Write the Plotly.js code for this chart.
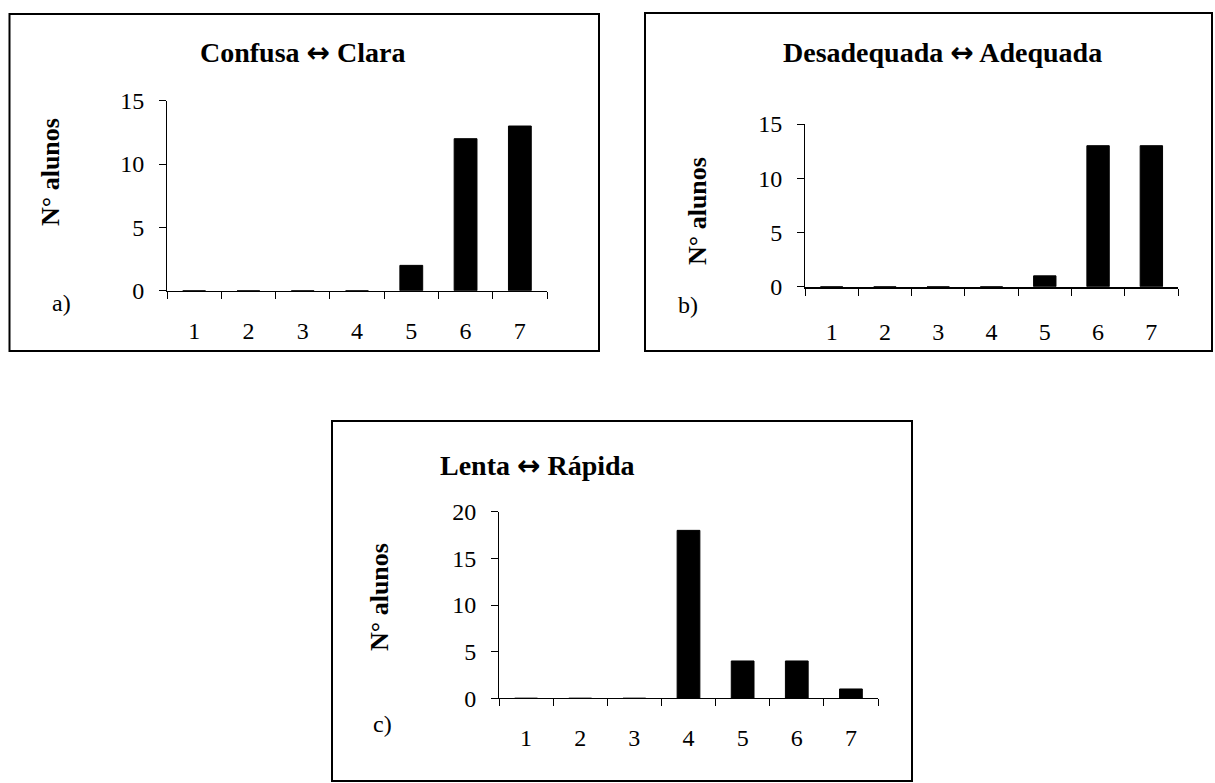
<!DOCTYPE html>
<html>
<head>
<meta charset="utf-8">
<script src="https://cdn.plot.ly/plotly-3.0.1.min.js"></script>
<style>html,body{margin:0;padding:0;background:#fff;}#chart{width:1215px;height:783px;}</style>
</head>
<body>
<div id="chart"></div>
<script>
// ---- data ----
const categories = ['1', '2', '3', '4', '5', '6', '7'];
const valuesA = [0, 0, 0, 0, 2, 12, 13];
const valuesB = [0, 0, 0, 0, 1, 13, 13];
const valuesC = [0, 0, 0, 18, 4, 4, 1];
const titleLeft = ['Confusa', 'Desadequada', 'Lenta'];
const titleRight = ['Clara', 'Adequada', 'R\u00e1pida'];
const panelLetters = ['a)', 'b)', 'c)'];
const yTitle = 'N\u00b0 alunos';
const yMax = [15, 15, 20];

// ---- layout helpers ----
const W = 1215, H = 783;
const px = x => x / W;
const py = y => 1 - y / H;
const FONT = 'Liberation Serif, Times New Roman, serif';

const panels = [
  {vals: valuesA, x0: 167, x1: 547, yTop: 100.7, yBot: 290.7, lw: 1, stand: 18,
   box: [9.5, 14, 599, 351], title: [303, 53], ytitle: [50, 172], letter: [61, 303]},
  {vals: valuesB, x0: 805, x1: 1178, yTop: 124, yBot: 286.7, lw: 2, stand: 22,
   box: [645, 13, 1212, 351], title: [942, 53], ytitle: [698, 211], letter: [688, 305]},
  {vals: valuesC, x0: 499, x1: 878, yTop: 511.7, yBot: 698.3, lw: 1, stand: 18,
   box: [332, 421, 912, 781], title: [537, 466], ytitle: [379, 597], letter: [382, 724]}
];

const traces = [];
const layout = {
  width: W, height: H,
  margin: {l: 0, r: 0, t: 0, b: 0},
  paper_bgcolor: '#fff', plot_bgcolor: 'rgba(0,0,0,0)',
  showlegend: false,
  font: {family: FONT, color: '#000'},
  shapes: [], annotations: []
};

panels.forEach((p, i) => {
  const sfx = i === 0 ? '' : String(i + 1);
  traces.push({
    type: 'bar', x: categories, y: p.vals,
    xaxis: 'x' + sfx, yaxis: 'y' + sfx,
    width: 0.42,
    marker: {color: '#000', line: {color: '#000', width: 1}},
    hoverinfo: 'x+y'
  });
  layout['xaxis' + sfx] = {
    domain: [px(p.x0), px(p.x1)],
    anchor: 'y' + sfx,
    type: 'category',
    range: [-0.5, 6.5],
    tickson: 'boundaries',
    ticks: 'outside', ticklen: 7, tickwidth: 1, tickcolor: '#000',
    showline: true, linecolor: '#000', linewidth: p.lw,
    showgrid: false, zeroline: false,
    ticklabelstandoff: p.stand,
    tickfont: {family: FONT, size: 24, color: '#000'}
  };
  layout['yaxis' + sfx] = {
    domain: [py(p.yBot), py(p.yTop)],
    anchor: 'x' + sfx,
    range: [0, yMax[i]],
    dtick: 5, tick0: 0,
    ticks: 'outside', ticklen: 7, tickwidth: 1, tickcolor: '#000',
    showline: true, linecolor: '#000', linewidth: 1,
    showgrid: false, zeroline: false,
    ticklabelstandoff: 10,
    tickfont: {family: FONT, size: 24, color: '#000'}
  };
  layout.shapes.push({
    type: 'rect', xref: 'paper', yref: 'paper',
    x0: px(p.box[0]), x1: px(p.box[2]), y0: py(p.box[3]), y1: py(p.box[1]),
    line: {color: '#000', width: 2}, fillcolor: 'rgba(0,0,0,0)', layer: 'below'
  });
  layout.annotations.push({
    xref: 'paper', yref: 'paper', x: px(p.title[0]), y: py(p.title[1]),
    xanchor: 'center', yanchor: 'middle', showarrow: false,
    text: '<b>' + titleLeft[i] + ' <span style="font-family:DejaVu Sans">\u2194</span> ' + titleRight[i] + '</b>',
    font: {family: FONT, size: 28, color: '#000'}
  });
  layout.annotations.push({
    xref: 'paper', yref: 'paper', x: px(p.ytitle[0]), y: py(p.ytitle[1]),
    xanchor: 'center', yanchor: 'middle', showarrow: false, textangle: -90,
    text: '<b>' + yTitle + '</b>',
    font: {family: FONT, size: 26, color: '#000'}
  });
  layout.annotations.push({
    xref: 'paper', yref: 'paper', x: px(p.letter[0]), y: py(p.letter[1]),
    xanchor: 'center', yanchor: 'middle', showarrow: false,
    text: panelLetters[i],
    font: {family: FONT, size: 24, color: '#000'}
  });
});

Plotly.newPlot('chart', traces, layout, {displayModeBar: false, staticPlot: true});
</script>
</body>
</html>
